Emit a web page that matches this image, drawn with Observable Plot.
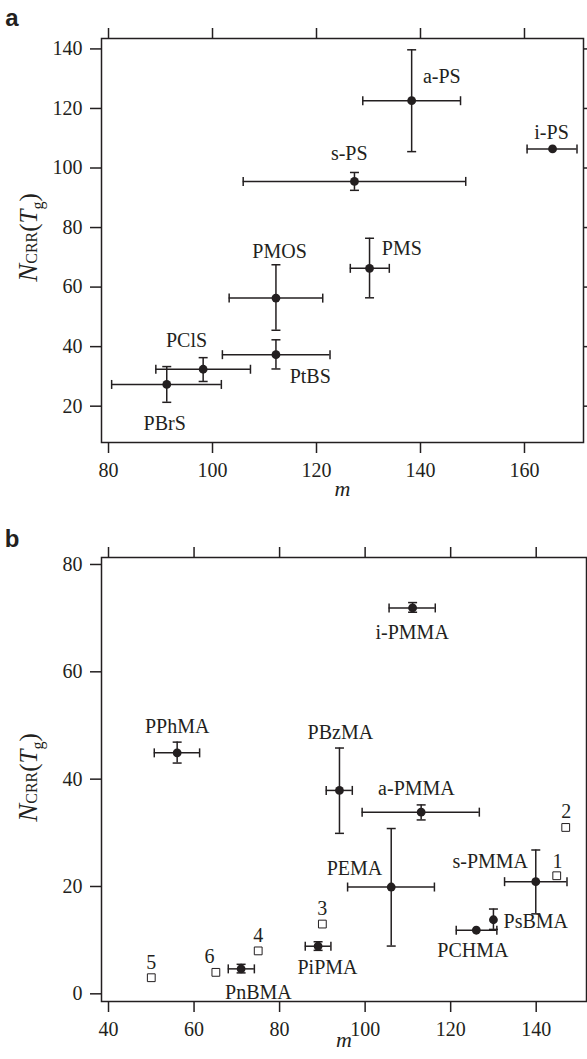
<!DOCTYPE html>
<html>
<head>
<meta charset="utf-8">
<script src="https://cdn.jsdelivr.net/npm/d3@7"></script>
<script src="https://cdn.jsdelivr.net/npm/@observablehq/plot@0.6"></script>
<style>
  html, body { margin: 0; padding: 0; background: #fff; }
  #wrap { position: relative; width: 587px; height: 1059px; overflow: hidden; }
  #wrap svg { display: block; }
</style>
</head>
<body>
<div id="wrap"></div>
<script>
// ---------- Panel a data ----------
const aNames  = ["a-PS", "i-PS", "s-PS", "PMS", "PMOS", "PtBS", "PClS", "PBrS"];
const aM      = [138.3, 165.4, 127.3, 130.2, 112.2, 112.2, 98.2, 91.2];
const aMLo    = [128.9, 160.5, 105.9, 126.5, 103.2, 101.9, 89.1, 80.6];
const aMHi    = [147.7, 170.1, 148.7, 134.0, 121.2, 122.6, 107.3, 101.7];
const aN      = [122.6, 106.4, 95.5, 66.3, 56.3, 37.3, 32.4, 27.3];
const aNLo    = [105.5, null, 92.5, 56.4, 45.5, 32.5, 28.3, 21.3];
const aNHi    = [139.7, null, 98.5, 76.4, 67.5, 42.3, 36.3, 33.3];
const aLabelM = [144.1, 165.2, 126.3, 136.4, 112.9, 118.8, 95.0, 90.8];
const aLabelN = [130.7, 112.0, 104.8, 73.0, 72.0, 29.8, 42.1, 14.0];
const aXTicks = [80, 100, 120, 140, 160];
const aYTicks = [20, 40, 60, 80, 100, 120, 140];

// ---------- Panel b data ----------
const bNames  = ["i-PMMA", "PPhMA", "PBzMA", "a-PMMA", "PEMA", "s-PMMA", "PsBMA", "PCHMA", "PiPMA", "PnBMA"];
const bM      = [111.1, 56.05, 94.0, 113.1, 106.1, 139.9, 130.0, 126.0, 89.0, 71.0];
const bMLo    = [105.6, 50.7, 90.9, 99.3, 95.9, 132.6, null, 121.3, 86.0, 68.0];
const bMHi    = [116.4, 61.3, 97.0, 126.7, 116.2, 147.2, null, 130.8, 92.0, 74.1];
const bN      = [71.9, 44.9, 37.9, 33.85, 19.9, 20.9, 13.8, 11.85, 8.87, 4.65];
const bNLo    = [71.1, 43.0, 29.9, 32.4, 8.9, 14.9, 12.0, null, 8.1, 3.9];
const bNHi    = [72.9, 46.9, 45.8, 35.2, 30.8, 26.8, 15.8, null, 9.7, 5.5];
const bLabelM = [111.0, 56.05, 94.2, 112.0, 97.5, 129.25, 139.9, 125.2, 91.2, 75.05];
const bLabelN = [67.4, 49.8, 48.75, 38.2, 23.4, 24.65, 13.55, 8.06, 4.85, 0.3];
// open squares (numbered reference points)
const refNum    = ["1", "2", "3", "4", "5", "6"];
const refM      = [144.8, 146.9, 90.0, 75.0, 50.0, 65.1];
const refN      = [22, 31, 13, 8, 3, 4];
const refLabelM = [145.0, 147.0, 90.0, 75.0, 50.0, 63.6];
const refLabelN = [24.65, 34.0, 15.84, 10.86, 5.77, 6.95];
const bXTicks = [40, 60, 80, 100, 120, 140];
const bYTicks = [0, 20, 40, 60, 80];

// ---------- helpers ----------
const ink = "#231f20";
const serif = "'Liberation Serif', 'Times New Roman', serif";
const plotStyle = `font-family: ${serif}; font-size: 20px; color: ${ink}; background: white; overflow: visible;`;

const capV = { draw(ctx, size) { const h = Math.sqrt(size / Math.PI); ctx.moveTo(0, -h); ctx.lineTo(0, h); } };
const capH = { draw(ctx, size) { const h = Math.sqrt(size / Math.PI); ctx.moveTo(-h, 0); ctx.lineTo(h, 0); } };

function rows(names, m, mLo, mHi, n, nLo, nHi, lm, ln) {
  return names.map((name, i) => ({
    name, m: m[i], mLo: mLo[i], mHi: mHi[i], n: n[i], nLo: nLo[i], nHi: nHi[i], lm: lm[i], ln: ln[i]
  }));
}

function errorMarks(data) {
  const hasX = d => d.mLo != null && d.mHi != null;
  const hasY = d => d.nLo != null && d.nHi != null;
  return [
    Plot.ruleY(data.filter(hasX), { y: "n", x1: "mLo", x2: "mHi", stroke: ink, strokeWidth: 1.5 }),
    Plot.ruleX(data.filter(hasY), { x: "m", y1: "nLo", y2: "nHi", stroke: ink, strokeWidth: 1.5 }),
    Plot.dot(data.filter(hasX), { x: "mLo", y: "n", symbol: capV, r: 4.5, stroke: ink, fill: "none", strokeWidth: 1.5 }),
    Plot.dot(data.filter(hasX), { x: "mHi", y: "n", symbol: capV, r: 4.5, stroke: ink, fill: "none", strokeWidth: 1.5 }),
    Plot.dot(data.filter(hasY), { x: "m", y: "nLo", symbol: capH, r: 4.5, stroke: ink, fill: "none", strokeWidth: 1.5 }),
    Plot.dot(data.filter(hasY), { x: "m", y: "nHi", symbol: capH, r: 4.5, stroke: ink, fill: "none", strokeWidth: 1.5 }),
    Plot.dot(data, { x: "m", y: "n", r: 4.4, fill: ink, stroke: "none" }),
    Plot.text(data, { x: "lm", y: "ln", text: "name", fontSize: 20, fontFamily: serif, fill: ink, textAnchor: "middle", lineAnchor: "middle" })
  ];
}

function axes(xTicks, yTicks) {
  const common = { tickSize: 11, stroke: ink, strokeWidth: 1.5, fill: ink, fontSize: 20, fontFamily: serif, label: null };
  return [
    Plot.axisX({ ...common, anchor: "bottom", ticks: xTicks, tickPadding: 9 }),
    Plot.axisX({ ...common, anchor: "top", ticks: xTicks, tickFormat: () => "" }),
    Plot.axisY({ ...common, anchor: "left", ticks: yTicks, tickPadding: 8 }),
    Plot.axisY({ ...common, anchor: "right", ticks: yTicks, tickFormat: () => "" }),
    Plot.frame({ stroke: ink, strokeWidth: 1.5 })
  ];
}

function yLabel(svg, cy) {
  const t = d3.select(svg).append("text")
    .attr("transform", `translate(37,${cy}) rotate(-90)`)
    .attr("text-anchor", "middle")
    .attr("fill", ink)
    .style("font-family", serif);
  t.append("tspan").style("font-style", "italic").style("font-size", "27px").text("N");
  t.append("tspan").style("font-size", "16px").text("CRR");
  t.append("tspan").style("font-size", "25px").text("(");
  t.append("tspan").style("font-style", "italic").style("font-size", "25px").text("T");
  t.append("tspan").style("font-size", "16px").attr("dy", 6).text("g");
  t.append("tspan").style("font-size", "25px").attr("dy", -6).text(")");
}

function panelLetter(svg, letter, y) {
  d3.select(svg).append("text")
    .attr("x", 12).attr("y", y)
    .attr("fill", ink)
    .attr("style", "font-family: 'Liberation Sans', Arial, sans-serif; font-weight: bold; font-size: 24px;")
    .text(letter);
}

const wrap = document.getElementById("wrap");

// ---------- Panel a ----------
const aData = rows(aNames, aM, aMLo, aMHi, aN, aNLo, aNHi, aLabelM, aLabelN);
const svgA = Plot.plot({
  width: 587, height: 530,
  marginTop: 38, marginBottom: 88, marginLeft: 101, marginRight: 4,
  style: plotStyle,
  x: { domain: [78.65, 171.35] },
  y: { domain: [7.8, 143.5] },
  marks: [
    ...axes(aXTicks, aYTicks),
    ...errorMarks(aData),
    Plot.text(["m"], { frameAnchor: "bottom", dy: 53, text: d => d, fontStyle: "italic", fontSize: 22, fontFamily: serif, fill: ink })
  ]
});
yLabel(svgA, 237.5);
panelLetter(svgA, "a", 26);
wrap.appendChild(svgA);

// ---------- Panel b ----------
const bData = rows(bNames, bM, bMLo, bMHi, bN, bNLo, bNHi, bLabelM, bLabelN);
const refData = refNum.map((k, i) => ({ k, m: refM[i], n: refN[i], lm: refLabelM[i], ln: refLabelN[i] }));
const svgB = Plot.plot({
  width: 587, height: 529,
  marginTop: 27, marginBottom: 58, marginLeft: 101, marginRight: 1,
  style: plotStyle,
  x: { domain: [38.36, 151.76] },
  y: { domain: [-1.43, 81.3] },
  marks: [
    ...axes(bXTicks, bYTicks),
    Plot.dot(refData, { x: "m", y: "n", symbol: "square", r: 4.4, stroke: ink, strokeWidth: 1, fill: "white" }),
    Plot.text(refData, { x: "lm", y: "ln", text: "k", fontSize: 20, fontFamily: serif, fill: ink, textAnchor: "middle", lineAnchor: "middle" }),
    ...errorMarks(bData),
    Plot.text(["m"], { frameAnchor: "bottom", dy: 45, text: d => d, fontStyle: "italic", fontSize: 22, fontFamily: serif, fill: ink })
  ]
});
yLabel(svgB, 247.5);
panelLetter(svgB, "b", 17);
wrap.appendChild(svgB);
</script>
</body>
</html>
